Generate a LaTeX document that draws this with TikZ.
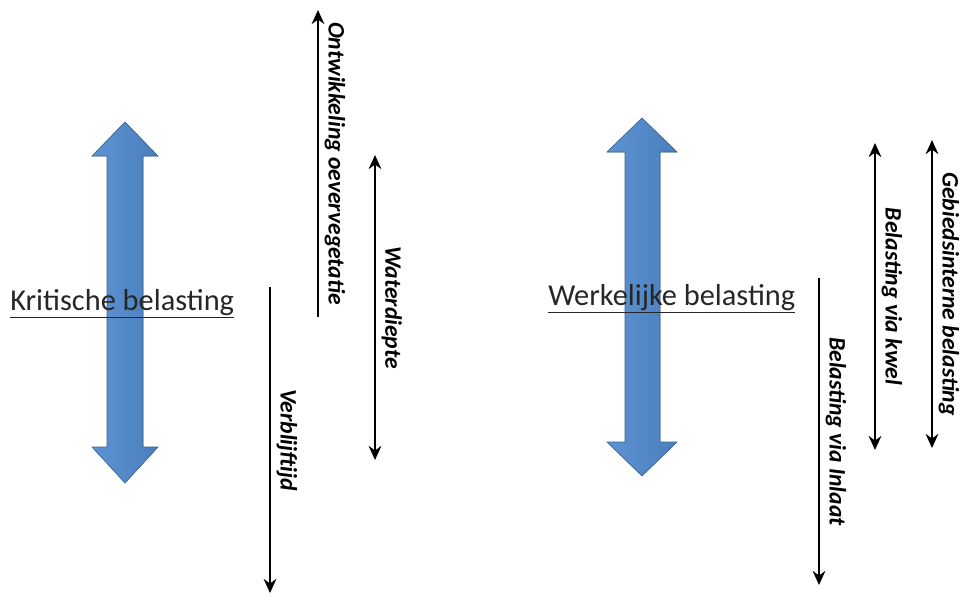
\documentclass[tikz,border=0pt]{standalone}
\usepackage{fontspec}
\setmainfont{Carlito}
\usetikzlibrary{arrows.meta}

\definecolor{blokblauw}{HTML}{4A7EBB}
\definecolor{bloklicht}{HTML}{5E93D4}

\tikzset{
  blok/.style={left color=bloklicht, right color=blokblauw, draw=blokblauw!80!black, line width=0.4pt},
  lijn/.style={line width=1.4pt, >={Stealth[length=10pt,width=9pt]}},
  lbl/.style={sloped, above, inner sep=4pt, font=\fontsize{16.8}{19}\selectfont\bfseries\itshape},
  titel/.style={inner sep=0pt, text=black!85, font=\fontsize{21.6}{26}\selectfont}
}

\begin{document}
\begin{tikzpicture}[x=0.025cm, y=-0.025cm]
  \useasboundingbox (0,0) rectangle (972,608);

  % brede pijlen
  \fill[blok] (125,122) -- (158,156) -- (143,156) -- (143,447) -- (158,447) -- (125,483)
    -- (92,447) -- (107,447) -- (107,156) -- (92,156) -- cycle;
  \fill[blok] (642,118) -- (677,152) -- (660,152) -- (660,442) -- (677,442) -- (642,476)
    -- (607,442) -- (625,442) -- (625,152) -- (607,152) -- cycle;

  \node[titel, anchor=base west] (kritisch) at (10,310) {\underline{Kritische belasting}};
  \node[titel, anchor=base west] (werkelijk) at (548,305) {\underline{Werkelijke belasting}};

  % links
  \coordinate (o1) at (318,10);  \coordinate (o2) at (318,317);
  \coordinate (w1) at (375,155); \coordinate (w2) at (375,460);
  \coordinate (v1) at (270,287); \coordinate (v2) at (270,593);
  \draw[lijn, <-] (o1) -- node[lbl] (oever) {Ontwikkeling oevervegetatie} (o2);
  \draw[lijn, <->] (w1) -- node[lbl] (diepte) {Waterdiepte} (w2);
  \draw[lijn, ->] (v1) -- node[lbl] (verblijf) {Verblijftijd} (v2);

  % rechts
  \coordinate (i1) at (819,278); \coordinate (i2) at (819,585);
  \coordinate (k1) at (875,143); \coordinate (k2) at (875,450);
  \coordinate (g1) at (932,140); \coordinate (g2) at (932,448);
  \draw[lijn, ->] (i1) -- node[lbl] (inlaat) {Belasting via Inlaat} (i2);
  \draw[lijn, <->] (k1) -- node[lbl] (kwel) {Belasting via kwel} (k2);
  \draw[lijn, <->] (g1) -- node[lbl] (gebied) {Gebiedsinterne belasting} (g2);
\end{tikzpicture}
\end{document}
